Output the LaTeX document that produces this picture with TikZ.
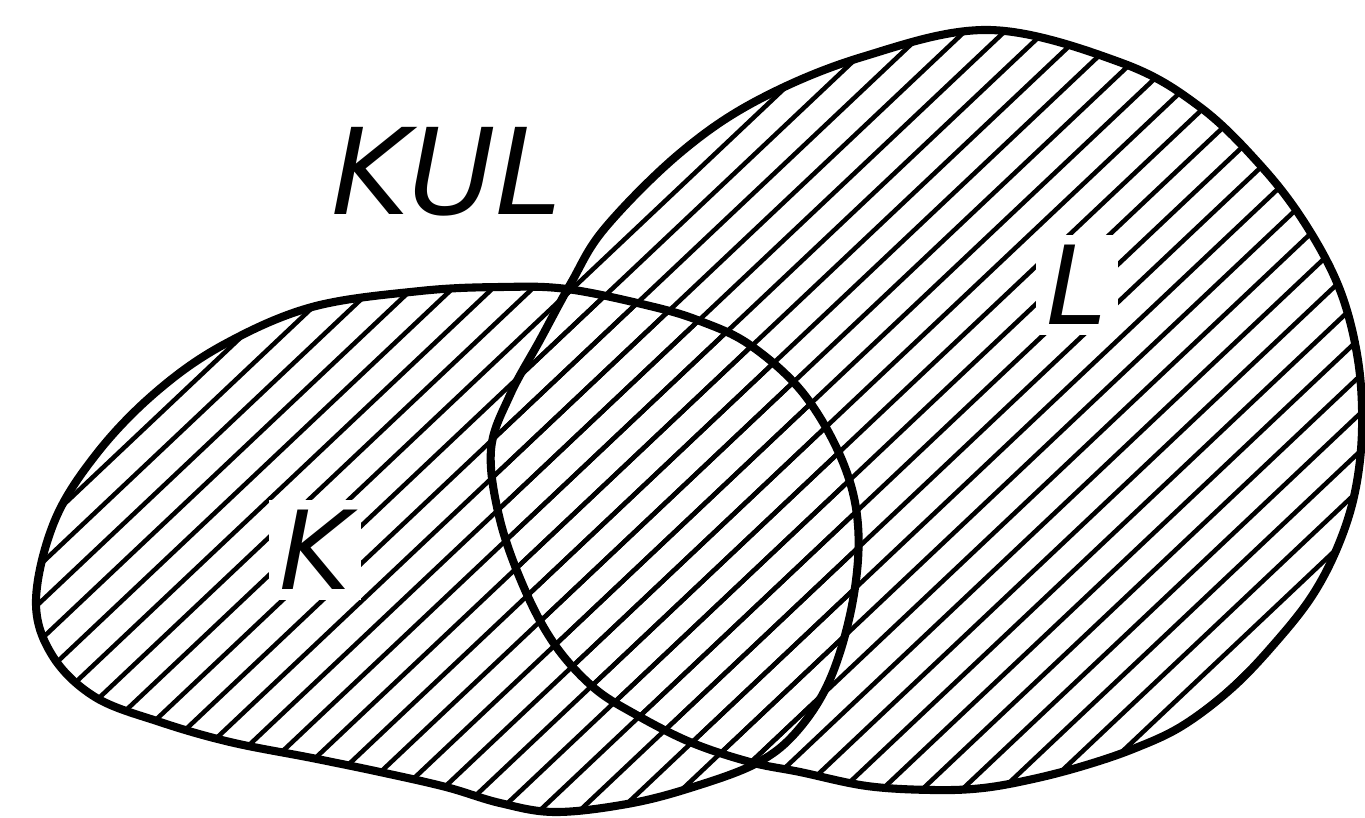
\documentclass[tikz,border=0pt]{standalone}
\usepackage{fontspec}
\setsansfont{DejaVu Sans}
\usepackage{tikz}
\usetikzlibrary{positioning}
\definecolor{vnInk}{HTML}{000000}
\tikzset{
  rim/.style   ={draw=vnInk, line width=2.3pt, line join=round},
  hatch/.style ={draw=vnInk, line width=1.3pt, line cap=round},
  tag/.style   ={fill=white, inner sep=3pt, text=vnInk, font=\sffamily\itshape\fontsize{31}{36}\selectfont},
}
\def\setK{(36,600) (55,520) (98,452) (156,392) (223,345) (312,307) (420,291) (500,287)
  (567,289) (650,306) (700,321) (750,345) (803,393) (842,460) (858,525) (853,600)
  (831,677) (798,730) (757,763) (690,788) (627,804) (555,812) (500,803) (446,787)
  (380,772) (312,758) (230,742) (160,722) (95,697) (52,655)}
\def\setL{(571,283) (605,228) (680,153) (758,100) (862,57) (990,30) (1122,63) (1200,107)
  (1262,167) (1306,225) (1340,290) (1358,360) (1362,430) (1355,492) (1338,546) (1312,596)
  (1275,643) (1232,688) (1182,726) (1133,749) (1083,766) (1033,779) (983,788) (933,790)
  (867,786) (800,772) (750,762) (690,742) (633,713) (593,687) (555,645) (525,590)
  (500,520) (491,450) (510,395) (540,340)}
\begin{document}
\begin{tikzpicture}[x=0.01cm,y=-0.01cm]
\useasboundingbox (0,0) rectangle (1365,817);

% ---- hatching of K and of L ----
\begin{scope}
\clip plot[smooth cycle, tension=0.6] coordinates {\setK};
\foreach \x in {-902,-862,...,1418}
  \draw[hatch] (\x,850) -- ++(900,-850);
\end{scope}
\begin{scope}
\clip plot[smooth cycle, tension=0.6] coordinates {\setL};
\foreach \x in {-902,-862,...,1418}
  \draw[hatch] (\x,850) -- ++(900,-850);
\end{scope}

% ---- outlines ----
\draw[rim] plot[smooth cycle, tension=0.6] coordinates {\setK};
\draw[rim] plot[smooth cycle, tension=0.6] coordinates {\setL};

% ---- labels ----
\node[tag] (labK) at (315,550) {K};
\node[tag] (labL) at (1077,285) {L};
\node[tag, fill=none, font=\sffamily\itshape\fontsize{34}{40}\selectfont] (labKL) at (447,172) {KUL};
\end{tikzpicture}
\end{document}
